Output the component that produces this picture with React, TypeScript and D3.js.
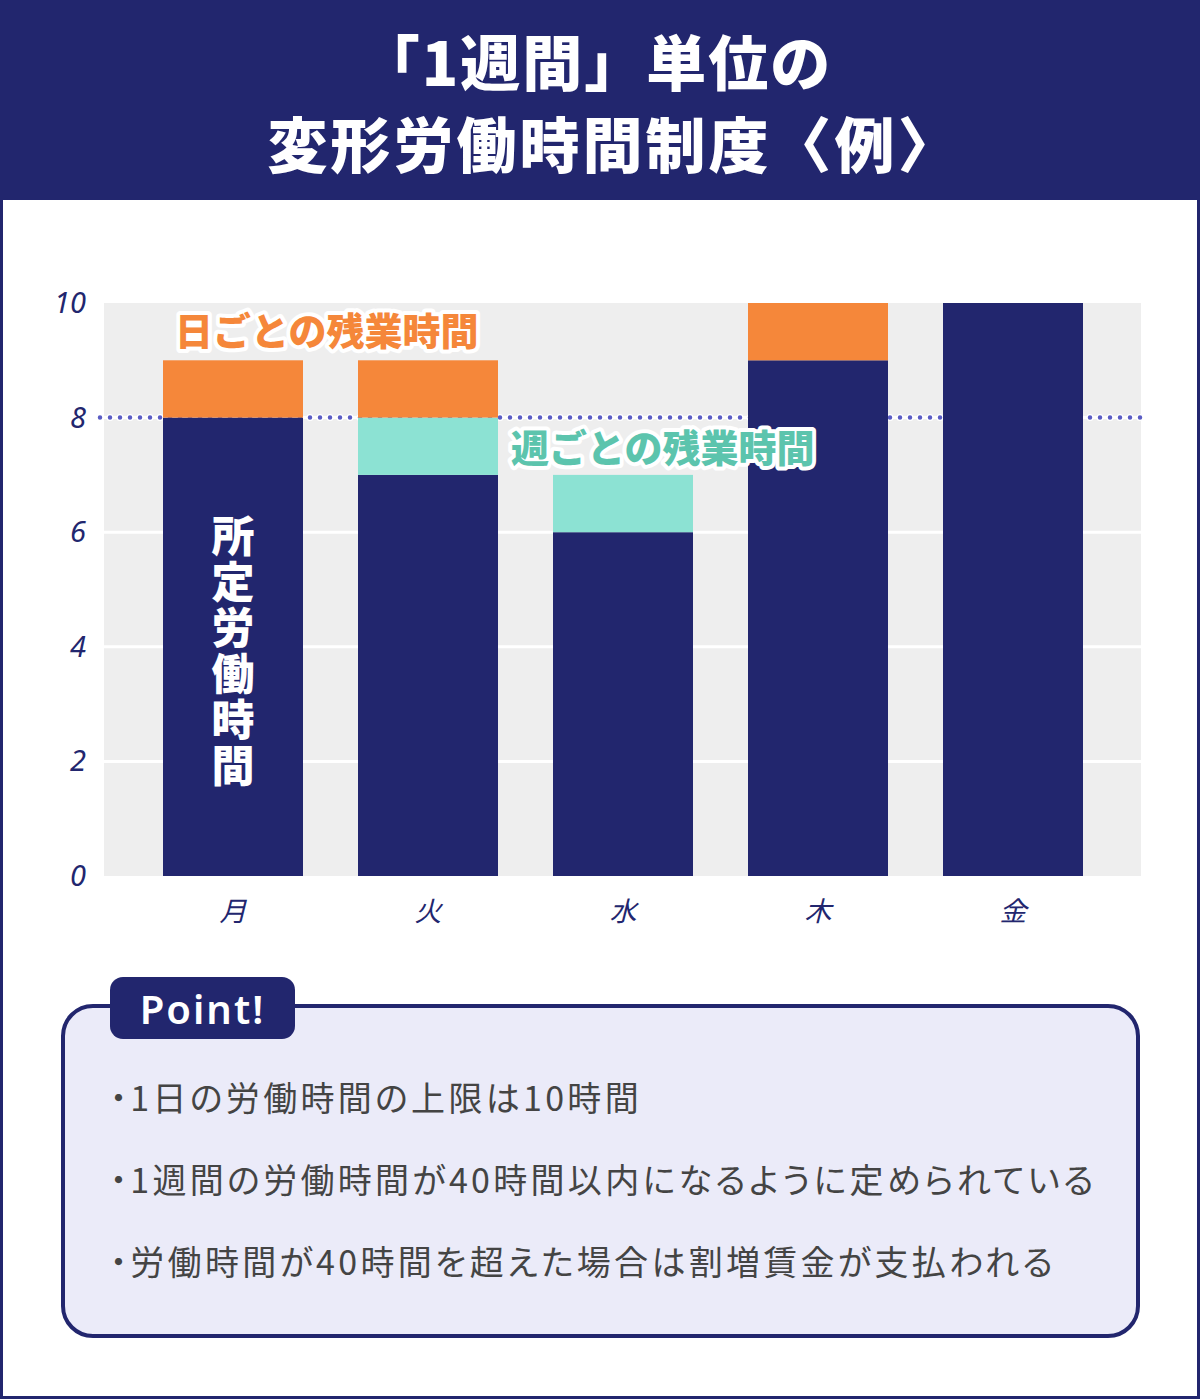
import React from "react"
import * as d3 from "d3"

const days: string[] = ["月", "火", "水", "木", "金"]
const regularHours: number[] = [8, 7, 6, 9, 10]
const weeklyOvertime: number[] = [0, 1, 1, 0, 0]
const dailyOvertime: number[] = [1, 1, 0, 1, 0]
const yTicks: number[] = [0, 2, 4, 6, 8, 10]
const limitLine = 8
const points: string[] = [
	"・1日の労働時間の上限は10時間",
	"・1週間の労働時間が40時間以内になるように定められている",
	"・労働時間が40時間を超えた場合は割増賃金が支払われる",
]

const W = 1200
const H = 1399
const navy = "#22266e"
const orange = "#f5873a"
const teal = "#8ce2d3"
const tealText = "#5cc4ad"
const grey = "#eeeeee"
const jp = "'Noto Sans CJK JP', 'Noto Sans', sans-serif"

const App: React.FC = () => {
	// plot area
	const margin = { top: 303, left: 104, right: 1141, bottom: 876 }
	const x = d3
		.scaleBand<string>()
		.domain(days)
		.range([margin.left + 31.5, margin.right - 30.5])
		.paddingInner(55 / 195)
		.paddingOuter((55 / 195) / 2)
	const y = d3.scaleLinear().domain([0, 10]).range([margin.bottom, margin.top])

	const stacks = days.map((d, i) => {
		const r = regularHours[i]
		const w = weeklyOvertime[i]
		const o = dailyOvertime[i]
		return [
			{ key: "regular", y0: 0, y1: r, color: navy },
			{ key: "weekly", y0: r, y1: r + w, color: teal },
			{ key: "daily", y0: r + w, y1: r + w + o, color: orange },
		].filter((s) => s.y1 > s.y0)
	})

	return (
		<svg
			width={W}
			height={H}
			style={{ position: "absolute", left: 0, top: 0, display: "block" }}
			fontFamily={jp}>
			<rect x={0} y={0} width={W} height={H} fill="#ffffff" />
			{/* outer frame */}
			<rect x={1.5} y={1.5} width={W - 3} height={H - 3} fill="none" stroke={navy} strokeWidth={3} />
			{/* title band */}
			<rect x={0} y={0} width={W} height={200} fill={navy} />
			<text x={W / 2 - 4} y={86} textAnchor="middle" fill="#fff" fontSize={60} fontWeight={900} letterSpacing={2}>
				「1週間」単位の
			</text>
			<text x={W / 2 + 14} y={168} textAnchor="middle" fill="#fff" fontSize={60} fontWeight={900} letterSpacing={3}>
				変形労働時間制度〈例〉
			</text>

			{/* plot background */}
			<rect
				x={margin.left}
				y={margin.top}
				width={margin.right - margin.left}
				height={margin.bottom - margin.top}
				fill={grey}
			/>
			{yTicks
				.filter((t) => t > 0 && t < 10)
				.map((t) => (
					<line
						key={"g" + t}
						x1={margin.left}
						x2={margin.right}
						y1={y(t)}
						y2={y(t)}
						stroke="#ffffff"
						strokeWidth={3}
					/>
				))}
			{yTicks.map((t) => (
				<text
					key={"t" + t}
					x={86}
					y={y(t) + 10}
					textAnchor="end"
					fontFamily="'Noto Sans', sans-serif"
					fontStyle="italic"
					fontSize={29}
					fill={navy}>
					{t}
				</text>
			))}

			{/* 8h limit dotted line (behind bars) */}
			<line
				x1={100}
				x2={margin.right}
				y1={y(limitLine)}
				y2={y(limitLine)}
				stroke="#ffffff"
				strokeWidth={7}
				strokeLinecap="round"
				strokeDasharray="0 10"
			/>
			<line
				x1={100}
				x2={margin.right}
				y1={y(limitLine)}
				y2={y(limitLine)}
				stroke="#5a5cc4"
				strokeWidth={4.5}
				strokeLinecap="round"
				strokeDasharray="0 10"
			/>

			{/* bars */}
			{stacks.map((segs, i) =>
				segs.map((s) => (
					<rect
						key={days[i] + s.key}
						x={x(days[i])}
						y={y(s.y1)}
						width={x.bandwidth()}
						height={y(s.y0) - y(s.y1)}
						fill={s.color}
					/>
				))
			)}

			{/* x labels */}
			{days.map((d) => (
				<text
					key={"x" + d}
					x={(x(d) as number) + x.bandwidth() / 2}
					y={921}
					textAnchor="middle"
					fontStyle="italic"
					fontSize={27}
					fill={navy}>
					{d}
				</text>
			))}

			{/* annotations */}
			<text
				x={175}
				y={345}
				fontSize={38}
				fontWeight={900}
				fill={orange}
				stroke="#ffffff"
				strokeWidth={8}
				strokeLinejoin="round"
				paintOrder="stroke">
				日ごとの残業時間
			</text>
			<text
				x={511}
				y={462}
				fontSize={38}
				fontWeight={900}
				fill={tealText}
				stroke="#ffffff"
				strokeWidth={8}
				strokeLinejoin="round"
				paintOrder="stroke">
				週ごとの残業時間
			</text>
			<text
				x={(x(days[0]) as number) + x.bandwidth() / 2}
				y={514}
				writingMode="vertical-rl"
				fontSize={43}
				fontWeight={900}
				letterSpacing={3}
				fill="#ffffff">
				所定労働時間
			</text>

			{/* point box */}
			<rect x={63} y={1006} width={1075} height={330} rx={30} fill="#ebebf9" stroke={navy} strokeWidth={4} />
			<rect x={110} y={977} width={185} height={62} rx={13} fill={navy} />
			<text
				x={202.5}
				y={1024}
				textAnchor="middle"
				fontFamily="'Noto Sans', sans-serif"
				fontSize={40}
				fontWeight={600}
				letterSpacing={2}
				fill="#ffffff">
				Point!
			</text>
			{points.map((p, i) => (
				<text
					key={"p" + i}
					x={110}
					y={1111 + i * 82}
					fontSize={34}
					letterSpacing={3.3}
					style={{ fontFeatureSettings: "'palt'" }}
					fill="#444444">
					{p}
				</text>
			))}
		</svg>
	)
}

export default App
